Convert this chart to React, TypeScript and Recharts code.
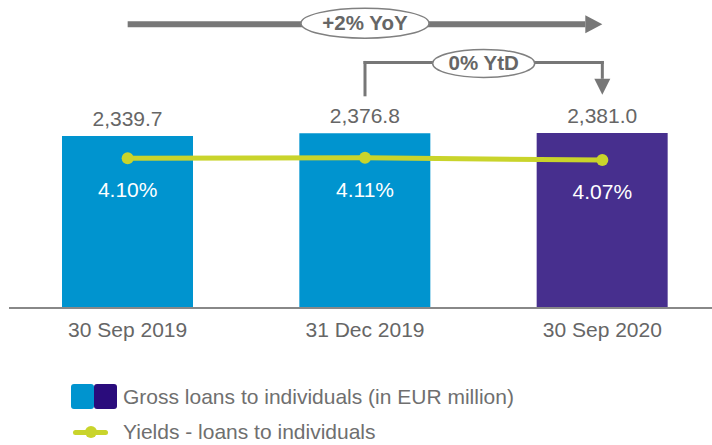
import React from 'react';
import { ComposedChart, Bar, Line, XAxis, YAxis, Cell, LabelList, ReferenceLine } from 'recharts';

const categories = ['30 Sep 2019', '31 Dec 2019', '30 Sep 2020'];
const grossLoans = [2339.7, 2376.8, 2381.0];
const yields = [4.10, 4.11, 4.07];
const barColors = ['#0094CF', '#0094CF', '#472F8E'];
const yoyText = '+2% YoY';
const ytdText = '0% YtD';

// annotation levels, in units of the loans axis
const yoyLevel = 3860;
const ytdTop = 3340;
const ytdFoot = 2900;

const GREY = '#777777';
const FONT = '"Liberation Sans", Arial, sans-serif';

const data = categories.map((name, i) => ({
  name,
  loans: grossLoans[i],
  yld: yields[i],
}));

const fmtLoans = (v: any) =>
  Number(v).toLocaleString('en-US', { minimumFractionDigits: 1, maximumFractionDigits: 1 });
const fmtYield = (v: any) => `${Number(v).toFixed(2)}%`;

const Bubble = ({ cx, cy, rx, ry, text }: any) => (
  <g>
    <ellipse cx={cx} cy={cy} rx={rx} ry={ry} fill="#fff" stroke="#808080" strokeWidth={1.5} />
    <text x={cx} y={cy} dy={7} textAnchor="middle" fontFamily={FONT} fontWeight={700} fontSize={20.5} fill="#666666">
      {text}
    </text>
  </g>
);

// long YoY arrow with a bubble in its middle
const yoyLabel = (p: any) => {
  const { x, y, width } = p.viewBox;
  const tip = x + width;
  const base = tip - 17;
  return (
    <g>
      <line x1={x} y1={y} x2={base} y2={y} stroke={GREY} strokeWidth={6} />
      <polygon points={`${base},${y - 9} ${tip},${y} ${base},${y + 9}`} fill={GREY} />
      <Bubble cx={x + width / 2} cy={y - 1} rx={64} ry={15} text={yoyText} />
    </g>
  );
};

const ytdBubble = (p: any) => {
  const { x, y, width } = p.viewBox;
  return <Bubble cx={x + width / 2} cy={y + 1} rx={51} ry={14} text={ytdText} />;
};

const ytdArrowDown = (p: any) => {
  const { x, y, height } = p.viewBox;
  const tip = y + height;
  const base = tip - 16;
  return (
    <g>
      <line x1={x} y1={y - 1.5} x2={x} y2={base} stroke={GREY} strokeWidth={3} />
      <polygon points={`${x - 8},${base} ${x + 8},${base} ${x},${tip}`} fill={GREY} />
    </g>
  );
};

const Legend = () => (
  <div style={{ position: 'absolute', left: 0, top: 0, width: 712, height: 445, pointerEvents: 'none', fontFamily: FONT, fontSize: 21, color: '#6f6f6f' }}>
    <div style={{ position: 'absolute', left: 71, top: 384, width: 23, height: 25, background: '#0094CF', borderRadius: 3 }} />
    <div style={{ position: 'absolute', left: 94, top: 384, width: 23, height: 25, background: '#2A0C7C', borderRadius: 3 }} />
    <div style={{ position: 'absolute', left: 123, top: 385, lineHeight: '24px' }}>Gross loans to individuals (in EUR million)</div>
    <div style={{ position: 'absolute', left: 73, top: 430, width: 35, height: 5, background: '#C9D42B', borderRadius: 3 }} />
    <div style={{ position: 'absolute', left: 85, top: 426, width: 12, height: 12, background: '#C9D42B', borderRadius: 6 }} />
    <div style={{ position: 'absolute', left: 123, top: 420, lineHeight: '24px' }}>Yields - loans to individuals</div>
  </div>
);

export default function App() {
  return (
    <div style={{ position: 'absolute', left: 0, top: 0, width: 712, height: 445, overflow: 'hidden', background: '#fff' }}>
      <ComposedChart width={722} height={360} data={data} margin={{ top: 11, right: 1, left: 9, bottom: 22 }}>
        <XAxis
          dataKey="name"
          height={30}
          interval={0}
          tickLine={false}
          tickSize={0}
          tickMargin={14}
          axisLine={{ stroke: '#888888', strokeWidth: 2 }}
          tick={{ fill: '#666666', fontSize: 21, fontFamily: FONT }}
        />
        <YAxis yAxisId="left" domain={[0, 4040]} hide />
        <YAxis yAxisId="right" orientation="right" domain={[1.58, 6.58]} hide />

        <Bar yAxisId="left" dataKey="loans" barSize={131} isAnimationActive={false}>
          {data.map((d, i) => (
            <Cell key={d.name} fill={barColors[i]} />
          ))}
          <LabelList dataKey="loans" position="top" offset={10} formatter={fmtLoans} fill="#666666" fontSize={21} fontFamily={FONT} />
        </Bar>

        <Line
          yAxisId="right"
          dataKey="yld"
          type="linear"
          stroke="#C9D42B"
          strokeWidth={5}
          dot={{ r: 6, fill: '#C9D42B', stroke: 'none' }}
          activeDot={false}
          isAnimationActive={false}
        >
          <LabelList dataKey="yld" position="bottom" offset={24} formatter={fmtYield} fill="#ffffff" fontSize={21} fontFamily={FONT} />
        </Line>

        <ReferenceLine
          yAxisId="left"
          segment={[{ x: categories[0], y: yoyLevel }, { x: categories[2], y: yoyLevel }]}
          stroke="none"
          label={yoyLabel}
        />
        <ReferenceLine
          yAxisId="left"
          segment={[{ x: categories[1], y: ytdFoot }, { x: categories[1], y: ytdTop }]}
          stroke={GREY}
          strokeWidth={3}
          strokeLinecap="square"
        />
        <ReferenceLine
          yAxisId="left"
          segment={[{ x: categories[1], y: ytdTop }, { x: categories[2], y: ytdTop }]}
          stroke={GREY}
          strokeWidth={3}
          strokeLinecap="square"
          label={ytdBubble}
        />
        <ReferenceLine
          yAxisId="left"
          segment={[{ x: categories[2], y: ytdTop }, { x: categories[2], y: ytdFoot }]}
          stroke="none"
          label={ytdArrowDown}
        />
      </ComposedChart>
      <Legend />
    </div>
  );
}
